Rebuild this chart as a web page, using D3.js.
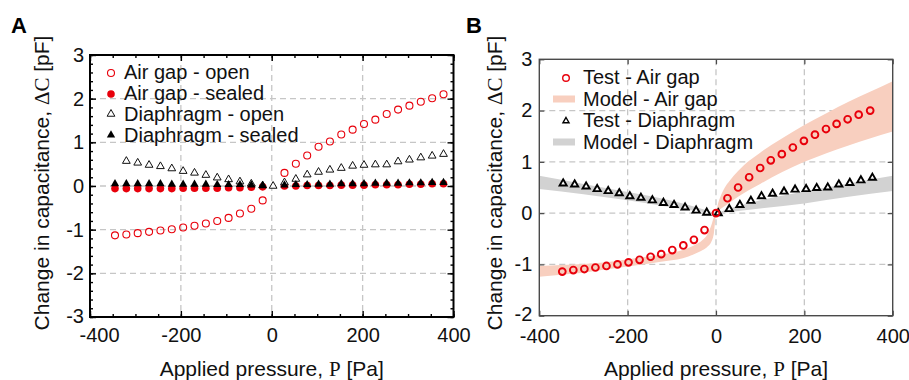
<!DOCTYPE html>
<html>
<head>
<meta charset="utf-8">
<script src="https://cdn.jsdelivr.net/npm/d3@7"></script>
<style>
  body { margin: 0; background: #fff; }
  svg { display: block; font-family: "Liberation Sans", Arial, sans-serif; }
</style>
</head>
<body>
<div id="chart"></div>
<script>
// Two panels: (A) open vs sealed measurements, (B) tests against model bands.
// Pressure in Pa, capacitance change in pF, values read off the figure.

const xTicks = [-400, -200, 0, 200, 400];
const xMinorTicks = [-400, -350, -300, -250, -200, -150, -100, -50, 0, 50, 100, 150, 200, 250, 300, 350, 400];
const aYTicks = [-3, -2, -1, 0, 1, 2, 3];
const aYMinorTicks = [-3, -2.8, -2.6, -2.4, -2.2, -2, -1.8, -1.6, -1.4, -1.2, -1, -0.8, -0.6, -0.4, -0.2, 0,
  0.2, 0.4, 0.6, 0.8, 1, 1.2, 1.4, 1.6, 1.8, 2, 2.2, 2.4, 2.6, 2.8, 3];
const bYTicks = [-2, -1, 0, 1, 2, 3];

// panel A
const aAirX = [-345, -320, -295, -270, -245, -220, -195, -170, -145, -120, -95, -70, -45, -20,
  28, 53, 78, 103, 128, 153, 178, 203, 228, 253, 278, 303, 328, 353, 378];
const aAirOpen = [-1.13, -1.11, -1.08, -1.05, -1.02, -0.99, -0.95, -0.91, -0.86, -0.80, -0.73, -0.63, -0.52, -0.33,
  0.30, 0.51, 0.70, 0.90, 1.02, 1.18, 1.29, 1.42, 1.52, 1.65, 1.75, 1.84, 1.93, 2.01, 2.10];
const aAirSealed = [-0.06, -0.06, -0.06, -0.06, -0.06, -0.06, -0.05, -0.05, -0.05, -0.05, -0.04, -0.04, -0.03, -0.02,
  0.0, 0.0, 0.01, 0.01, 0.01, 0.02, 0.02, 0.02, 0.03, 0.03, 0.03, 0.04, 0.04, 0.05, 0.05];
const aDiaSealed = [0.05, 0.05, 0.05, 0.05, 0.05, 0.04, 0.04, 0.04, 0.04, 0.03, 0.03, 0.03, 0.02, 0.01,
  0.02, 0.03, 0.03, 0.04, 0.04, 0.05, 0.05, 0.05, 0.06, 0.06, 0.06, 0.07, 0.07, 0.08, 0.08];
const aDiaX = [-320, -295, -270, -245, -220, -195, -170, -145, -120, -95, -70, -45, -20, 3,
  28, 53, 78, 103, 128, 153, 178, 203, 228, 253, 278, 303, 328, 353, 378];
const aDiaOpen = [0.57, 0.53, 0.48, 0.45, 0.40, 0.34, 0.30, 0.25, 0.19, 0.15, 0.10, 0.05, 0.01, 0.0,
  0.08, 0.16, 0.26, 0.32, 0.37, 0.41, 0.46, 0.48, 0.49, 0.49, 0.56, 0.60, 0.65, 0.69, 0.73];

// panel B
const bAirX = [-348, -323, -298, -273, -248, -223, -198, -173, -148, -124, -99, -74, -50, -26, 0,
  26, 50, 75, 100, 124, 149, 174, 199, 224, 249, 273, 298, 323, 349];
const bAirTest = [-1.14, -1.11, -1.09, -1.06, -1.03, -1.00, -0.96, -0.91, -0.85, -0.80, -0.72, -0.63, -0.52, -0.33, 0.0,
  0.29, 0.50, 0.70, 0.88, 1.03, 1.15, 1.28, 1.41, 1.53, 1.64, 1.74, 1.83, 1.92, 2.00];
const bDiaX = [-346, -320, -294, -269, -244, -219, -195, -170, -144, -119, -95, -70, -45, -21, 5,
  30, 54, 79, 103, 128, 154, 179, 204, 228, 253, 278, 303, 328, 354];
const bDiaTest = [0.58, 0.56, 0.52, 0.47, 0.43, 0.39, 0.33, 0.30, 0.25, 0.20, 0.16, 0.11, 0.05, 0.01, 0.0,
  0.08, 0.16, 0.24, 0.33, 0.38, 0.42, 0.46, 0.47, 0.49, 0.50, 0.56, 0.59, 0.64, 0.69];

const airModelX = [-400, -350, -300, -250, -200, -150, -100, -75, -50, -30, -20, -10, -5, 0,
  5, 10, 20, 30, 50, 75, 100, 150, 200, 250, 300, 350, 400];
const airModelLo = [-1.24, -1.20, -1.16, -1.10, -1.04, -0.98, -0.92, -0.88, -0.80, -0.72, -0.66, -0.55, -0.40, -0.02,
  0.05, 0.08, 0.14, 0.20, 0.32, 0.45, 0.57, 0.80, 1.00, 1.17, 1.32, 1.46, 1.59];
const airModelHi = [-1.03, -1.01, -0.99, -0.96, -0.90, -0.84, -0.77, -0.72, -0.63, -0.52, -0.42, -0.22, -0.08, 0.02,
  0.20, 0.32, 0.50, 0.62, 0.82, 1.02, 1.18, 1.46, 1.72, 1.95, 2.17, 2.37, 2.57];
const diaModelX = [-400, -300, -200, -100, -50, -20, 0, 20, 50, 100, 200, 300, 400];
const diaModelLo = [0.47, 0.37, 0.25, 0.11, 0.05, 0.01, 0, 0.01, 0.04, 0.09, 0.19, 0.32, 0.43];
const diaModelHi = [0.73, 0.57, 0.41, 0.24, 0.13, 0.05, 0, 0.06, 0.14, 0.25, 0.42, 0.58, 0.73];

const RED = "#e8000b";
const SALMON = "#f8cfbf";
const GREY = "#d2d2d2";

const svg = d3.select("#chart").append("svg")
  .attr("width", 909).attr("height", 380).attr("viewBox", "0 0 909 380");

const zip = (xs, ys) => xs.map((x, i) => ({ x, y: ys[i] }));
const plain = (d) => String(d); // hyphen minus, no decimals, as in the original

function panel(o) {
  const x = d3.scaleLinear().domain([-400, 400]).range([o.left, o.right]);
  const y = d3.scaleLinear().domain(o.yDomain).range([o.bottom, o.top]);
  const g = svg.append("g");

  // dashed grid, interior lines only
  g.append("g").selectAll("line").data(xTicks.filter((d) => d > -400 && d < 400)).join("line")
    .attr("x1", (d) => x(d)).attr("x2", (d) => x(d)).attr("y1", o.top).attr("y2", o.bottom)
    .attr("stroke", "#c6c6c6").attr("stroke-width", 1.3).attr("stroke-dasharray", "6,4");
  g.append("g").selectAll("line").data(o.yTicks.filter((d) => d > o.yDomain[0] && d < o.yDomain[1])).join("line")
    .attr("x1", o.left).attr("x2", o.right).attr("y1", (d) => y(d)).attr("y2", (d) => y(d))
    .attr("stroke", "#c6c6c6").attr("stroke-width", 1.3).attr("stroke-dasharray", "6,4");

  const ax = (axis, ty, tx) => {
    const a = g.append("g").attr("transform", `translate(${tx},${ty})`).call(axis);
    a.select(".domain").remove();
    a.selectAll("line").attr("stroke", o.frame).attr("stroke-width", o.tickWidth);
    a.selectAll("text").attr("fill", "#111").attr("font-size", 20).attr("font-family", "Liberation Sans, Arial, sans-serif");
    return a;
  };

  if (o.minor) {
    ax(d3.axisBottom(x).tickValues(xMinorTicks).tickFormat("").tickSize(-3), o.bottom, 0);
    ax(d3.axisTop(x).tickValues(xMinorTicks).tickFormat("").tickSize(-3), o.top, 0);
    ax(d3.axisLeft(y).tickValues(aYMinorTicks).tickFormat("").tickSize(-3), 0, o.left);
    ax(d3.axisRight(y).tickValues(aYMinorTicks).tickFormat("").tickSize(-3), 0, o.right);
  }
  const bottom = ax(d3.axisBottom(x).tickValues(xTicks).tickFormat(plain).tickSize(-o.tick).tickPadding(o.xPad), o.bottom, 0);
  // the first label sits a little right of the corner, clear of the lowest y label
  bottom.selectAll(".tick text").filter((d) => d === -400).attr("dx", o.firstDx);
  ax(d3.axisTop(x).tickValues(xTicks).tickFormat("").tickSize(-o.tick), o.top, 0);
  const left = ax(d3.axisLeft(y).tickValues(o.yTicks).tickFormat(plain).tickSize(-o.tick).tickPadding(o.yPad), 0, o.left);
  left.selectAll(".tick text").filter((d) => d === o.yDomain[0]).attr("dy", "0.26em");
  ax(d3.axisRight(y).tickValues(o.yTicks).tickFormat("").tickSize(-o.tick), 0, o.right);

  g.append("rect").attr("x", o.left).attr("y", o.top)
    .attr("width", o.right - o.left).attr("height", o.bottom - o.top)
    .attr("fill", "none").attr("stroke", o.frame).attr("stroke-width", o.frameWidth);

  // axis titles
  const cx = (o.left + o.right) / 2;
  const xt = g.append("text").attr("x", cx).attr("y", 376).attr("text-anchor", "middle")
    .attr("font-size", 21).attr("fill", "#111");
  xt.append("tspan").text("Applied pressure, ");
  xt.append("tspan").attr("font-family", "Liberation Serif, serif").text("P");
  xt.append("tspan").text(" [Pa]");

  const yt = g.append("text")
    .attr("transform", `translate(${o.titleX},183) rotate(-90)`)
    .attr("text-anchor", "middle").attr("dy", "0.35em").attr("font-size", 21).attr("fill", "#111");
  yt.append("tspan").text("Change in capacitance, ");
  yt.append("tspan").attr("font-family", "Liberation Serif, serif").text("ΔC");
  yt.append("tspan").text(" [pF]");

  g.append("text").attr("x", o.labelX).attr("y", 33).attr("font-size", 22).attr("font-weight", "bold")
    .attr("fill", "#000").text(o.label);

  return { g, x, y };
}

const tri = (size) => d3.symbol(d3.symbolTriangle, size)();

// ---------- panel A ----------
{
  const { g, x, y } = panel({
    left: 90, right: 453.5, top: 55, bottom: 317, yDomain: [-3, 3], yTicks: aYTicks,
    frame: "#000", frameWidth: 2, tick: 6, tickWidth: 1.4, minor: true, yPad: 6, xPad: 11, firstDx: 9,
    titleX: 42, label: "A", labelX: 11,
  });
  const plot = g.append("g");
  plot.selectAll("circle.ao").data(zip(aAirX, aAirOpen)).join("circle").attr("class", "ao")
    .attr("cx", (d) => x(d.x)).attr("cy", (d) => y(d.y)).attr("r", 3.5)
    .attr("fill", "none").attr("stroke", RED).attr("stroke-width", 1.1);
  plot.selectAll("circle.as").data(zip(aAirX, aAirSealed)).join("circle").attr("class", "as")
    .attr("cx", (d) => x(d.x)).attr("cy", (d) => y(d.y)).attr("r", 3.8).attr("fill", RED);
  plot.selectAll("path.do").data(zip(aDiaX, aDiaOpen)).join("path").attr("class", "do")
    .attr("transform", (d) => `translate(${x(d.x)},${y(d.y)})`).attr("d", tri(26))
    .attr("fill", "#fff").attr("stroke", "#111").attr("stroke-width", 1);
  plot.selectAll("path.ds").data(zip(aAirX, aDiaSealed)).join("path").attr("class", "ds")
    .attr("transform", (d) => `translate(${x(d.x)},${y(d.y)})`).attr("d", tri(30)).attr("fill", "#000");

  const legend = [
    { label: "Air gap - open", kind: "open-circle" },
    { label: "Air gap - sealed", kind: "dot" },
    { label: "Diaphragm - open", kind: "open-tri" },
    { label: "Diaphragm - sealed", kind: "tri" },
  ];
  const lg = g.append("g");
  legend.forEach((d, i) => {
    const cy = 72 + i * 21;
    if (d.kind === "open-circle") lg.append("circle").attr("cx", 111).attr("cy", cy + 1).attr("r", 3.5)
      .attr("fill", "none").attr("stroke", RED).attr("stroke-width", 1.1);
    if (d.kind === "dot") lg.append("circle").attr("cx", 111).attr("cy", cy + 1).attr("r", 3.8).attr("fill", RED);
    if (d.kind === "open-tri") lg.append("path").attr("transform", `translate(111,${cy})`).attr("d", tri(26))
      .attr("fill", "#fff").attr("stroke", "#111").attr("stroke-width", 1);
    if (d.kind === "tri") lg.append("path").attr("transform", `translate(111,${cy})`).attr("d", tri(30)).attr("fill", "#000");
    lg.append("text").attr("x", 124).attr("y", cy + 7).attr("font-size", 20).attr("fill", "#111").text(d.label);
  });
}

// ---------- panel B ----------
{
  const { g, x, y } = panel({
    left: 539.3, right: 892.7, top: 59.3, bottom: 315.7, yDomain: [-2, 3], yTicks: bYTicks,
    frame: "#4a4a4a", frameWidth: 1.4, tick: 5, tickWidth: 1.2, minor: false, yPad: 7, xPad: 13.5, firstDx: 0,
    titleX: 495, label: "B", labelX: 466,
  });
  const band = d3.area().x((d) => x(d.x)).y0((d) => y(d.lo)).y1((d) => y(d.hi)).curve(d3.curveMonotoneX);
  const plot = g.insert("g", "rect");
  plot.append("path").datum(airModelX.map((v, i) => ({ x: v, lo: airModelLo[i], hi: airModelHi[i] })))
    .attr("d", band).attr("fill", SALMON);
  plot.append("path").datum(diaModelX.map((v, i) => ({ x: v, lo: diaModelLo[i], hi: diaModelHi[i] })))
    .attr("d", band).attr("fill", GREY);

  const pts = g.append("g");
  pts.selectAll("path").data(zip(bDiaX, bDiaTest)).join("path")
    .attr("transform", (d) => `translate(${x(d.x)},${y(d.y)})`).attr("d", tri(22))
    .attr("fill", "#fff").attr("stroke", "#000").attr("stroke-width", 1.9);
  pts.selectAll("circle").data(zip(bAirX, bAirTest)).join("circle")
    .attr("cx", (d) => x(d.x)).attr("cy", (d) => y(d.y)).attr("r", 3.4)
    .attr("fill", "none").attr("stroke", RED).attr("stroke-width", 1.9);

  const legend = [
    { label: "Test - Air gap", kind: "circle" },
    { label: "Model - Air gap", kind: "band", color: SALMON },
    { label: "Test - Diaphragm", kind: "tri" },
    { label: "Model - Diaphragm", kind: "band", color: GREY },
  ];
  const lg = g.append("g");
  legend.forEach((d, i) => {
    const cy = 77 + i * 21.5;
    if (d.kind === "circle") lg.append("circle").attr("cx", 566).attr("cy", cy + 1).attr("r", 3.3)
      .attr("fill", "none").attr("stroke", RED).attr("stroke-width", 1.4);
    if (d.kind === "tri") lg.append("path").attr("transform", `translate(566,${cy + 1})`).attr("d", tri(16))
      .attr("fill", "#fff").attr("stroke", "#000").attr("stroke-width", 1.4);
    if (d.kind === "band") lg.append("rect").attr("x", 553).attr("y", cy - 3).attr("width", 22).attr("height", 7)
      .attr("fill", d.color);
    lg.append("text").attr("x", 583).attr("y", cy + 7).attr("font-size", 20).attr("fill", "#111").text(d.label);
  });
}
</script>
</body>
</html>
